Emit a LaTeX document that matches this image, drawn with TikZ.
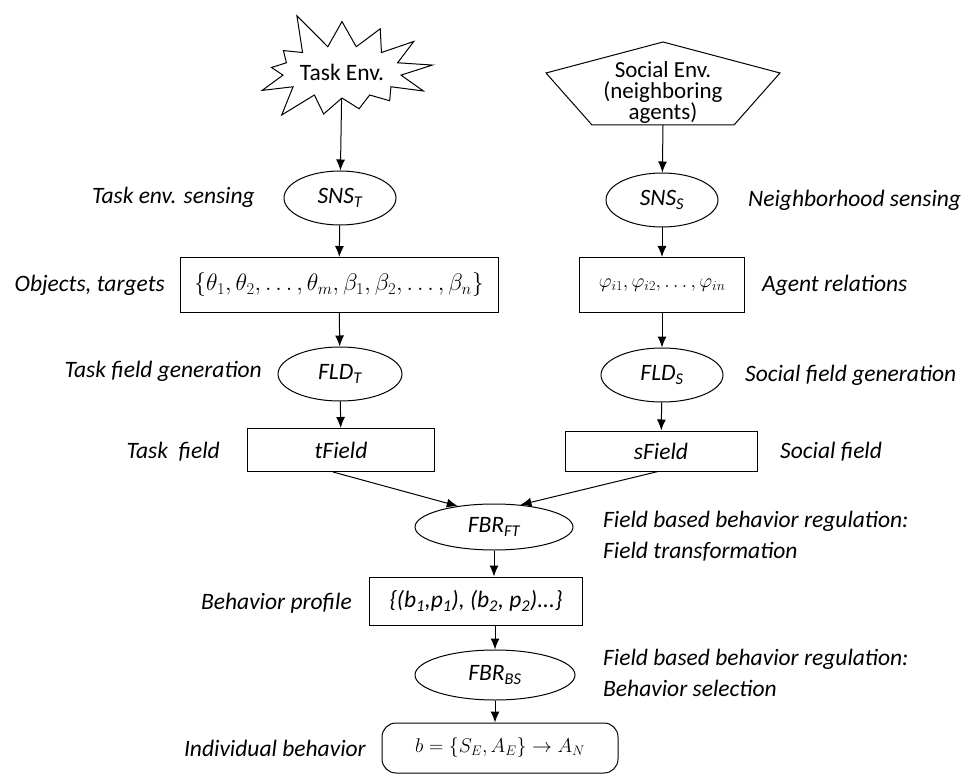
\documentclass[tikz,border=0pt]{standalone}
\usepackage{graphicx}
\usepackage{fontspec}
\setmainfont{Carlito}
\usetikzlibrary{shapes, arrows.meta, positioning}
\newcommand{\bigfont}{\fontsize{23.5}{25}\selectfont}
\newcommand{\mathbox}[2]{\scalebox{#1}{$#2$}}
\tikzstyle{enode} = [ellipse, draw, line width=1pt, minimum width=112pt, minimum height=54pt, inner sep=0pt, font=\bigfont\itshape]
\tikzstyle{bnode} = [rectangle, draw, line width=1pt, inner sep=0pt, font=\bigfont]
\tikzstyle{lbl} = [font=\bigfont\itshape, inner sep=0pt]
\tikzstyle{line} = [draw, line width=1pt, -{Latex[length=11pt, width=9pt]}]

\begin{document}
\begin{tikzpicture}[x=1pt, y=-1pt, font=\bigfont]
			\useasboundingbox (0,0) rectangle (965,775);
			% environments
			\node [starburst, draw, line width=1pt, minimum width=162pt, minimum height=132pt, starburst points=13, starburst point height=40pt, random starburst=5, inner sep=0pt] (task) at (342,72) {Task Env.};
			\draw [line width=1pt] (663,42) -- (780,73) -- (734,125) -- (592,125) -- (546,73) -- cycle;
			\node [align=center, font=\fontsize{23}{21}\selectfont] (soc) at (663,92) {Social Env.\\(neighboring\\agents)};
			\coordinate (socb) at (663,125);
			
			% sensing
			\node [enode] (snst) at (340,198) {SNS\textsubscript{T}};
			\node [enode] (snss) at (662,200) {SNS\textsubscript{S}};
			\node [bnode, minimum width=318pt, minimum height=55pt] (objs) at (339,285) {\mathbox{0.96}{\{\theta_1, \theta_2, \dots, \theta_m, \beta_1, \beta_2, \dots, \beta_n\}}};
			\node [bnode, minimum width=165pt, minimum height=55pt] (rel) at (662,285) {\mathbox{0.8}{\varphi_{i1}, \varphi_{i2}, \dots, \varphi_{in}}};
			
			% fields
			\node [enode, minimum width=124pt] (fldt) at (340,374) {FLD\textsubscript{T}};
			\node [enode, minimum width=122pt] (flds) at (662,375) {FLD\textsubscript{S}};
			\node [bnode, minimum width=187pt, minimum height=43pt] (tfld) at (341,450) {\itshape tField};
			\node [bnode, minimum width=192pt, minimum height=40pt] (sfld) at (661,451) {\itshape sField};
			
			% regulation
			\node [enode, minimum width=158pt, minimum height=46pt] (fbrft) at (494,527) {FBR\textsubscript{FT}};
			\node [bnode, minimum width=213pt, minimum height=48pt] (prof) at (476,601) {\itshape\{(b\textsubscript{1},p\textsubscript{1}), (b\textsubscript{2}, p\textsubscript{2})...\}};
			\node [enode, minimum width=160pt, minimum height=50pt] (fbrbs) at (495,675) {FBR\textsubscript{BS}};
			\node [bnode, rounded corners=14pt, minimum width=236pt, minimum height=50pt] (indiv) at (500,748) {\mathbox{0.8}{b = \{S_E, A_E\} \rightarrow A_N}};
			
			% labels
			\node [lbl, anchor=east] (l1) at (255,197) {Task env. sensing};
			\node [lbl, anchor=east] (l2) at (165,285) {Objects, targets};
			\node [lbl, anchor=east] (l3) at (262,371) {Task field generation};
			\node [lbl, anchor=east] (l4) at (220,452) {Task~~field};
			\node [lbl, anchor=east] (l5) at (352,603) {Behavior profile};
			\node [lbl, anchor=east] (l6) at (366,748) {Individual behavior};
			\node [lbl, anchor=west] (r1) at (748,200) {Neighborhood sensing};
			\node [lbl, anchor=west] (r2) at (762,285) {Agent relations};
			\node [lbl, anchor=west] (r3) at (745,375) {Social field generation};
			\node [lbl, anchor=west] (r4) at (780,452) {Social field};
			\node [lbl, anchor=west, align=left, font=\itshape\fontsize{23.5}{31}\selectfont] (r5) at (603,536) {Field based behavior regulation:\\Field transformation};
			\node [lbl, anchor=west, align=left, font=\itshape\fontsize{23.5}{31}\selectfont] (r6) at (603,673) {Field based behavior regulation:\\Behavior selection};
			
			\path [line] (task) -- (snst);
			\path [line] (socb) -- (snss);
			\path [line] (snst) -- (objs);
			\path [line] (snss) -- (rel);
			\path [line] (objs) -- (fldt);
			\path [line] (rel) -- (flds);
			\path [line] (fldt) -- (tfld);
			\path [line] (flds) -- (sfld);
			\path [line] ([xshift=-8pt]tfld.south) -- (fbrft.150);
			\path [line] ([xshift=-3pt]sfld.south) -- (fbrft.40);
			\path [line] (fbrft.south) -- (fbrft.south |- prof.north);
			\path [line] (fbrbs.north |- prof.south) -- (fbrbs.north);
			\path [line] (fbrbs.south) -- (fbrbs.south |- indiv.north);
		\end{tikzpicture}
\end{document}
